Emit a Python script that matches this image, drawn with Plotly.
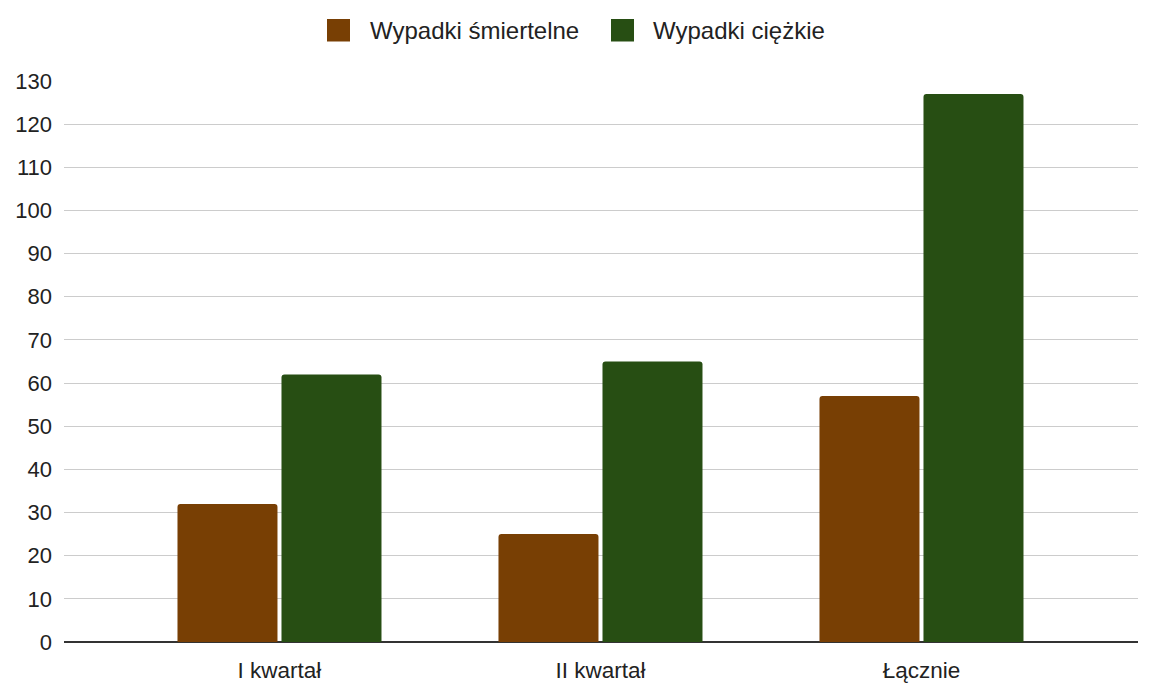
import plotly.graph_objects as go

categories = ["I kwartał", "II kwartał", "Łącznie"]
smiertelne = [32, 25, 57]
ciezkie = [62, 65, 127]
series_names = ["Wypadki śmiertelne", "Wypadki ciężkie"]
colors = ["#783F04", "#274E13"]
y_ticks = list(range(0, 131, 10))

# figure geometry (page body adds an 8px offset)
W, H = 1142, 687
ML, MR, MT, MB = 56, 12, 73, 53
PW, PH = W - ML - MR, H - MT - MB


def px_x(p):
    return (p - ML) / PW


def px_y(p):
    return (H - MB - p) / PH


fig = go.Figure()
fig.add_trace(go.Bar(x=categories, y=smiertelne, name=series_names[0],
                     marker=dict(color=colors[0], line=dict(width=0), cornerradius=3),
                     showlegend=False))
fig.add_trace(go.Bar(x=categories, y=ciezkie, name=series_names[1],
                     marker=dict(color=colors[1], line=dict(width=0), cornerradius=3),
                     showlegend=False))

# custom legend with large square swatches
legend_items = [(319, 360), (603, 643)]
for (sq_x, tx_x), name, col in zip(legend_items, series_names, colors):
    fig.add_shape(type="rect", xref="paper", yref="paper",
                  x0=px_x(sq_x), x1=px_x(sq_x + 23), y0=px_y(33.5), y1=px_y(11),
                  fillcolor=col, line=dict(width=0), layer="above")
    fig.add_annotation(xref="paper", yref="paper", x=px_x(tx_x), y=px_y(22.5),
                       xanchor="left", yanchor="middle", text=name, showarrow=False,
                       font=dict(size=24, color="#222222"))

fig.update_layout(
    width=W, height=H,
    margin=dict(l=ML, r=MR, t=MT, b=MB, autoexpand=False),
    paper_bgcolor="white", plot_bgcolor="white",
    font=dict(family="Liberation Sans, Arial, sans-serif", size=22, color="#222222"),
    barmode="group", bargap=0.352, bargroupgap=0.0385,
    showlegend=False,
)
fig.update_xaxes(range=[-0.6713, 2.6745], showgrid=False, ticks="", showline=False,
                 tickfont=dict(size=22.5), ticklabelstandoff=12, automargin=False)
fig.update_yaxes(range=[0, 130], tickvals=y_ticks, showgrid=True, gridcolor="#cccccc",
                 gridwidth=1, zeroline=True, zerolinecolor="#333333", zerolinewidth=2,
                 tickfont=dict(size=22), ticklabelstandoff=11, showline=False,
                 automargin=False)

fig.write_html("out.html")
